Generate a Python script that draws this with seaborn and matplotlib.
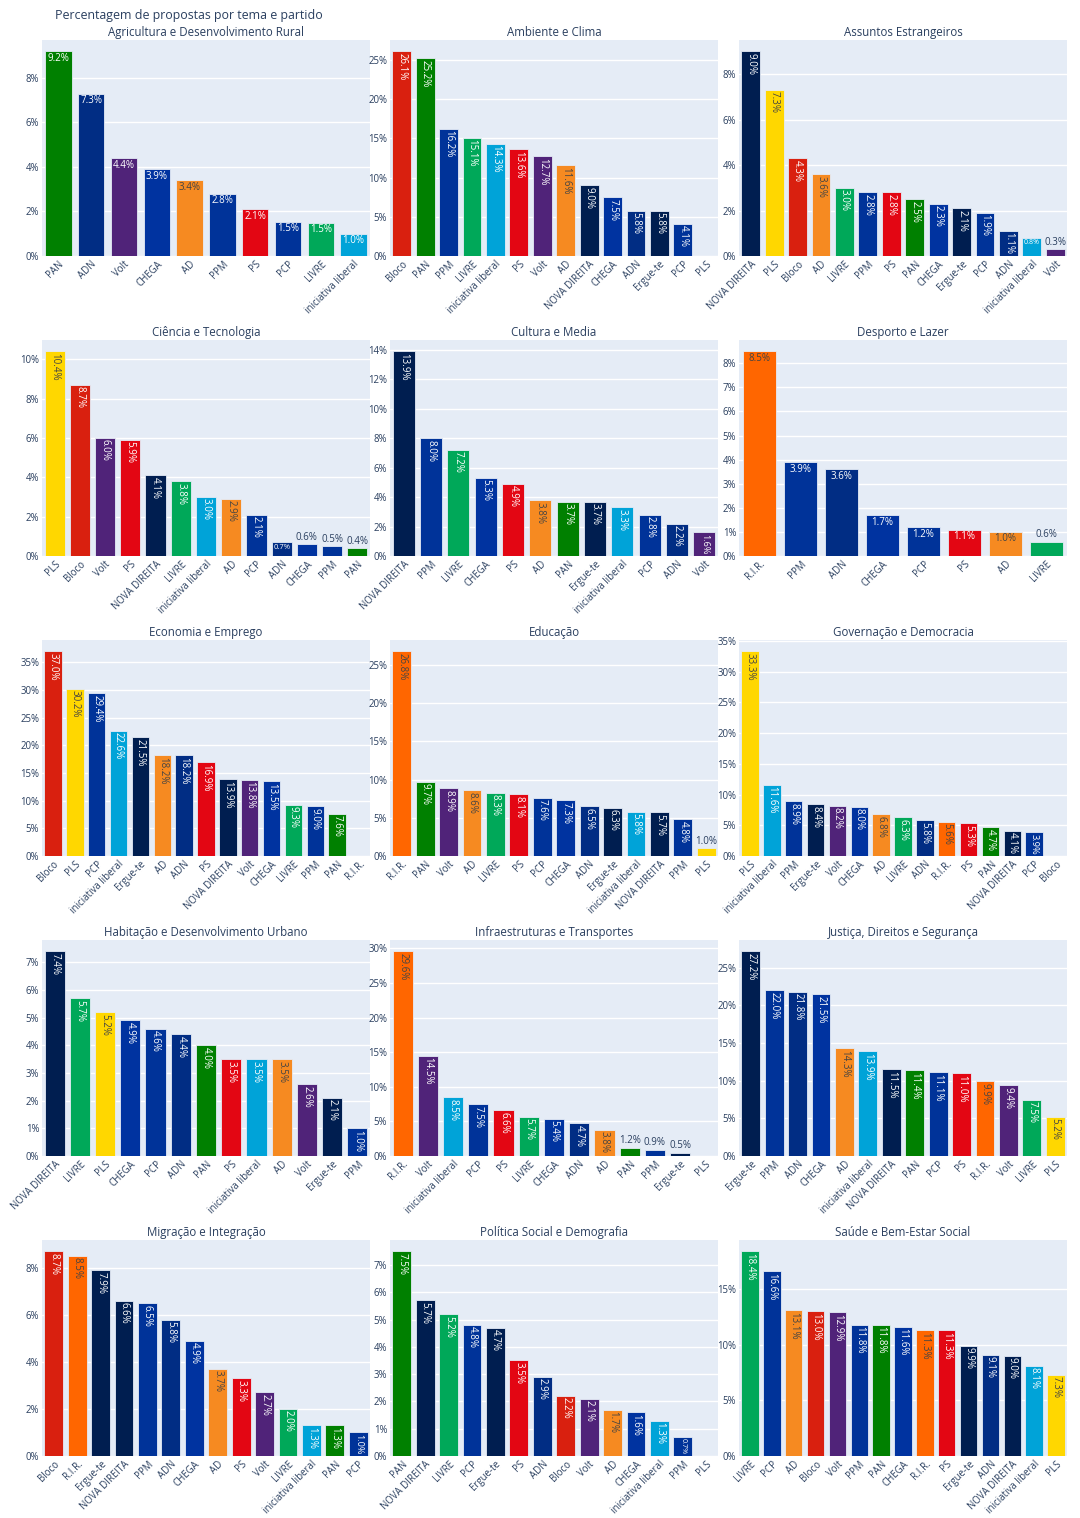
import numpy as np
import pandas as pd
import seaborn as sns
import matplotlib
matplotlib.use("Agg")
import matplotlib.pyplot as plt
from matplotlib.font_manager import FontProperties

# Dados: percentagem de propostas por tema e partido
AGRI_PARTIDOS = ["PAN", "ADN", "Volt", "CHEGA", "AD", "PPM", "PS", "PCP", "LIVRE", "iniciativa liberal"]
AGRI_VALORES = [9.2, 7.3, 4.4, 3.9, 3.4, 2.8, 2.1, 1.54, 1.49, 1.0]

AMB_PARTIDOS = ["Bloco", "PAN", "PPM", "LIVRE", "iniciativa liberal", "PS", "Volt", "AD",
                "NOVA DIREITA", "CHEGA", "ADN", "Ergue-te", "PCP", "PLS"]
AMB_VALORES = [26.1, 25.2, 16.2, 15.1, 14.3, 13.6, 12.7, 11.6, 9.0, 7.5, 5.8, 5.8, 4.1, 0.0]

EST_PARTIDOS = ["NOVA DIREITA", "PLS", "Bloco", "AD", "LIVRE", "PPM", "PS", "PAN", "CHEGA",
                "Ergue-te", "PCP", "ADN", "iniciativa liberal", "Volt"]
EST_VALORES = [9.0, 7.3, 4.3, 3.6, 3.0, 2.8, 2.8, 2.5, 2.3, 2.1, 1.9, 1.1, 0.8, 0.3]

CIEN_PARTIDOS = ["PLS", "Bloco", "Volt", "PS", "NOVA DIREITA", "LIVRE", "iniciativa liberal", "AD",
                 "PCP", "ADN", "CHEGA", "PPM", "PAN"]
CIEN_VALORES = [10.4, 8.7, 6.0, 5.9, 4.1, 3.8, 3.0, 2.9, 2.1, 0.7, 0.6, 0.5, 0.4]

CULT_PARTIDOS = ["NOVA DIREITA", "PPM", "LIVRE", "CHEGA", "PS", "AD", "PAN", "Ergue-te",
                 "iniciativa liberal", "PCP", "ADN", "Volt"]
CULT_VALORES = [13.9, 8.0, 7.2, 5.3, 4.9, 3.8, 3.7, 3.7, 3.3, 2.8, 2.2, 1.6]

DESP_PARTIDOS = ["R.I.R.", "PPM", "ADN", "CHEGA", "PCP", "PS", "AD", "LIVRE"]
DESP_VALORES = [8.5, 3.9, 3.6, 1.7, 1.2, 1.1, 1.0, 0.6]

ECON_PARTIDOS = ["Bloco", "PLS", "PCP", "iniciativa liberal", "Ergue-te", "AD", "ADN", "PS",
                 "NOVA DIREITA", "Volt", "CHEGA", "LIVRE", "PPM", "PAN", "R.I.R."]
ECON_VALORES = [37.0, 30.2, 29.4, 22.6, 21.5, 18.2, 18.2, 16.9, 13.9, 13.8, 13.5, 9.3, 9.0, 7.6, 0.0]

EDU_PARTIDOS = ["R.I.R.", "PAN", "Volt", "AD", "LIVRE", "PS", "PCP", "CHEGA", "ADN", "Ergue-te",
                "iniciativa liberal", "NOVA DIREITA", "PPM", "PLS"]
EDU_VALORES = [26.8, 9.7, 8.9, 8.6, 8.3, 8.1, 7.6, 7.3, 6.5, 6.3, 5.8, 5.7, 4.8, 1.0]

GOV_PARTIDOS = ["PLS", "iniciativa liberal", "PPM", "Ergue-te", "Volt", "CHEGA", "AD", "LIVRE",
                "ADN", "R.I.R.", "PS", "PAN", "NOVA DIREITA", "PCP", "Bloco"]
GOV_VALORES = [33.3, 11.6, 8.9, 8.4, 8.2, 8.0, 6.8, 6.3, 5.8, 5.6, 5.3, 4.7, 4.1, 3.9, 0.0]

HAB_PARTIDOS = ["NOVA DIREITA", "LIVRE", "PLS", "CHEGA", "PCP", "ADN", "PAN", "PS",
                "iniciativa liberal", "AD", "Volt", "Ergue-te", "PPM"]
HAB_VALORES = [7.4, 5.7, 5.2, 4.9, 4.6, 4.4, 4.0, 3.5, 3.5, 3.5, 2.6, 2.1, 1.0]

INFRA_PARTIDOS = ["R.I.R.", "Volt", "iniciativa liberal", "PCP", "PS", "LIVRE", "CHEGA", "ADN",
                  "AD", "PAN", "PPM", "Ergue-te", "PLS"]
INFRA_VALORES = [29.6, 14.5, 8.5, 7.5, 6.6, 5.7, 5.4, 4.7, 3.8, 1.2, 0.9, 0.5, 0.0]

JUST_PARTIDOS = ["Ergue-te", "PPM", "ADN", "CHEGA", "AD", "iniciativa liberal", "NOVA DIREITA",
                 "PAN", "PCP", "PS", "R.I.R.", "Volt", "LIVRE", "PLS"]
JUST_VALORES = [27.2, 22.0, 21.8, 21.5, 14.3, 13.9, 11.5, 11.4, 11.1, 11.0, 9.9, 9.4, 7.5, 5.2]

MIG_PARTIDOS = ["Bloco", "R.I.R.", "Ergue-te", "NOVA DIREITA", "PPM", "ADN", "CHEGA", "AD", "PS",
                "Volt", "LIVRE", "iniciativa liberal", "PAN", "PCP"]
MIG_VALORES = [8.7, 8.5, 7.9, 6.6, 6.5, 5.8, 4.9, 3.7, 3.3, 2.7, 2.0, 1.3, 1.3, 1.0]

POL_PARTIDOS = ["PAN", "NOVA DIREITA", "LIVRE", "PCP", "Ergue-te", "PS", "ADN", "Bloco", "Volt",
                "AD", "CHEGA", "iniciativa liberal", "PPM", "PLS"]
POL_VALORES = [7.5, 5.7, 5.2, 4.8, 4.7, 3.5, 2.9, 2.2, 2.1, 1.7, 1.6, 1.3, 0.7, 0.0]

SAUDE_PARTIDOS = ["LIVRE", "PCP", "AD", "Bloco", "Volt", "PPM", "PAN", "CHEGA", "R.I.R.", "PS",
                  "Ergue-te", "ADN", "NOVA DIREITA", "iniciativa liberal", "PLS"]
SAUDE_VALORES = [18.4, 16.6, 13.1, 13.0, 12.9, 11.8, 11.8, 11.6, 11.3, 11.3, 9.9, 9.1, 9.0, 8.1, 7.3]

TEMAS = [
    ("Agricultura e Desenvolvimento Rural", AGRI_PARTIDOS, AGRI_VALORES),
    ("Ambiente e Clima", AMB_PARTIDOS, AMB_VALORES),
    ("Assuntos Estrangeiros", EST_PARTIDOS, EST_VALORES),
    ("Ciência e Tecnologia", CIEN_PARTIDOS, CIEN_VALORES),
    ("Cultura e Media", CULT_PARTIDOS, CULT_VALORES),
    ("Desporto e Lazer", DESP_PARTIDOS, DESP_VALORES),
    ("Economia e Emprego", ECON_PARTIDOS, ECON_VALORES),
    ("Educação", EDU_PARTIDOS, EDU_VALORES),
    ("Governação e Democracia", GOV_PARTIDOS, GOV_VALORES),
    ("Habitação e Desenvolvimento Urbano", HAB_PARTIDOS, HAB_VALORES),
    ("Infraestruturas e Transportes", INFRA_PARTIDOS, INFRA_VALORES),
    ("Justiça, Direitos e Segurança", JUST_PARTIDOS, JUST_VALORES),
    ("Migração e Integração", MIG_PARTIDOS, MIG_VALORES),
    ("Política Social e Demografia", POL_PARTIDOS, POL_VALORES),
    ("Saúde e Bem-Estar Social", SAUDE_PARTIDOS, SAUDE_VALORES),
]

# Cores dos partidos
CORES = {
    "PAN": "#008000",
    "ADN": "#012D84",
    "Volt": "#502379",
    "CHEGA": "#0033A0",
    "AD": "#F68A21",
    "PPM": "#003399",
    "PS": "#E30613",
    "PCP": "#003399",
    "LIVRE": "#00A859",
    "iniciativa liberal": "#00A3D8",
    "Bloco": "#D9200F",
    "NOVA DIREITA": "#001E50",
    "Ergue-te": "#001E50",
    "PLS": "#FFD700",
    "R.I.R.": "#FF6600",
}

FUNDO = "#E5ECF6"
TEXTO = "#2a3f5f"
FONTE = "Open Sans"

# Layout (pixels)
FIG_W, FIG_H = 1080, 1518
COL_X = [42, 390, 739]
COL_W = 328
ROW_TOP = [40, 340, 640, 940, 1240]
ROW_H = 216

FS_TICK = 6.9
FS_BAR = 7.0
FS_SUB = 8.3
FS_TITLE = 8.9


def passo_ticks(ymax):
    bruto = ymax / 9.0
    base = 10 ** np.floor(np.log10(bruto))
    for m in (1, 2, 5, 10):
        if m * base >= bruto - 1e-9:
            return m * base
    return 10 * base


def cor_texto(hexcor):
    r, g, b = [int(hexcor[i:i + 2], 16) for i in (1, 3, 5)]
    brilho = (r * 299 + g * 587 + b * 114) / 1000
    return "#444444" if brilho >= 128 else "white"


def desenhar_tema(fig, ax, titulo, partidos, valores, renderer):
    df = pd.DataFrame({"partido": partidos, "valor": valores})
    n = len(partidos)
    sns.barplot(data=df, x="partido", y="valor", hue="partido", order=partidos,
                hue_order=partidos, palette=CORES, saturation=1, width=0.8,
                errorbar=None, edgecolor=FUNDO, linewidth=0.6, legend=False, ax=ax)

    ymax = max(valores) * 1.055
    ax.set_ylim(0, ymax)
    ax.set_xlim(-0.5, n - 0.5)
    passo = passo_ticks(ymax)
    ticks = np.arange(0, ymax + 1e-9, passo)
    ax.set_yticks(ticks)
    ax.set_yticklabels([f"{t:.0f}%" for t in ticks], fontsize=FS_TICK, color=TEXTO, family=FONTE)
    ax.set_xticks(range(n))
    ax.set_xticklabels(partidos, rotation=45, ha="right", rotation_mode="anchor",
                       fontsize=FS_TICK, color=TEXTO, family=FONTE)
    ax.tick_params(axis="both", length=0)
    ax.tick_params(axis="x", pad=2)
    ax.tick_params(axis="y", pad=2)
    ax.set_xlabel("")
    ax.set_ylabel("")
    ax.set_facecolor(FUNDO)
    for sp in ax.spines.values():
        sp.set_visible(False)
    ax.yaxis.grid(True, color="white", linewidth=1)
    ax.xaxis.grid(False)
    ax.set_axisbelow(True)
    ax.set_title(titulo, fontsize=FS_SUB, color=TEXTO, family=FONTE, pad=3)

    # rótulos de valor, ao estilo "auto" do plotly
    prop = FontProperties(family=FONTE, size=FS_BAR)
    font_px = FS_BAR / 72 * 100
    px_por_unidade = ROW_H / ymax
    pad = 1.5
    largura = 0.8 * COL_W / n
    for i, v in enumerate(valores):
        if v <= 0:
            continue
        rotulo = f"{v:.1f}%"
        tw, _, _ = renderer.get_text_width_height_descent(rotulo, prop, ismath=False)
        th = 1.3 * font_px
        bw = largura - 2 * pad
        bh = v * px_por_unidade - 2 * pad
        cabe = ((tw <= bw and th <= bh) or (tw <= bh and th <= bw)
                or (bh >= th * (bw / tw)))
        if cabe:
            if tw <= bw and th <= bh:
                rot, esc = 0, 1.0
            elif bw < bh:
                rot, esc = -90, min(1.0, bw / th, bh / tw)
            else:
                rot, esc = 0, min(1.0, bw / tw, bh / th)
            # texto pequeno demais rodado: ficar na horizontal se for melhor
            if rot == -90:
                esc0 = min(1.0, bw / tw, bh / th)
                if esc0 > esc:
                    rot, esc = 0, esc0
            ax.text(i, v - pad / px_por_unidade, rotulo, rotation=rot, ha="center", va="top",
                    fontsize=FS_BAR * esc, color=cor_texto(CORES[partidos[i]]), family=FONTE)
        else:
            ax.text(i, v + pad / px_por_unidade, rotulo, ha="center", va="bottom",
                    fontsize=FS_BAR, color=TEXTO, family=FONTE)


def main():
    sns.set_style("white")
    plt.rcParams["font.family"] = [FONTE, "DejaVu Sans"]
    fig = plt.figure(figsize=(FIG_W / 100, FIG_H / 100), dpi=100)
    fig.patch.set_facecolor("white")
    renderer = fig.canvas.get_renderer()

    for k, (titulo, partidos, valores) in enumerate(TEMAS):
        linha, coluna = divmod(k, 3)
        ax = fig.add_axes([COL_X[coluna] / FIG_W,
                           1 - (ROW_TOP[linha] + ROW_H) / FIG_H,
                           COL_W / FIG_W, ROW_H / FIG_H])
        desenhar_tema(fig, ax, titulo, partidos, valores, renderer)

    fig.text(55 / FIG_W, 1 - 16 / FIG_H, "Percentagem de propostas por tema e partido",
             ha="left", va="center", fontsize=FS_TITLE, color=TEXTO, family=FONTE)

    fig.savefig("out.png", dpi=100, facecolor="white")


if __name__ == "__main__":
    main()
